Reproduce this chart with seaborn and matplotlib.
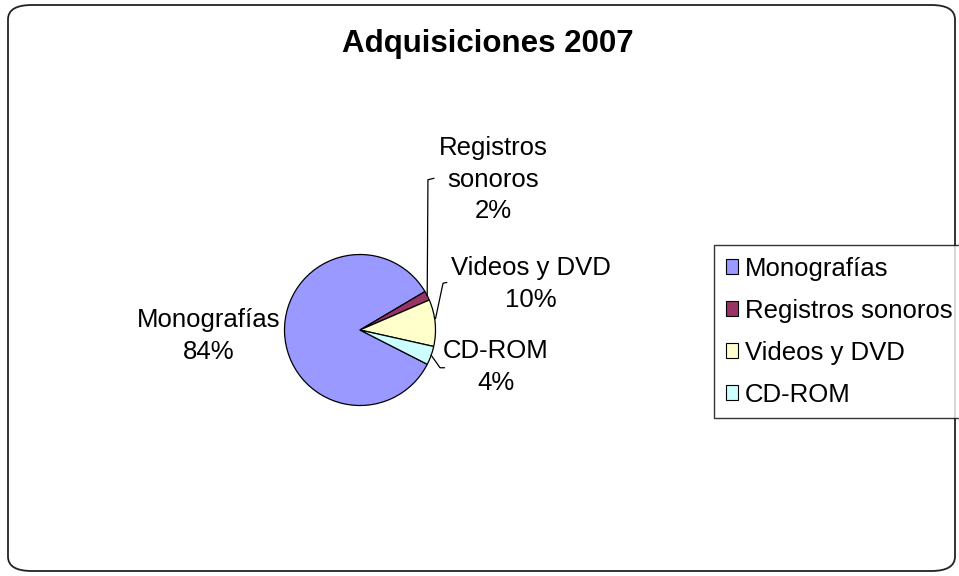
import matplotlib
matplotlib.use("Agg")
import matplotlib.pyplot as plt
import seaborn as sns
from matplotlib.patches import FancyBboxPatch, Patch

categories = ["Monografías", "Registros sonoros", "Videos y DVD", "CD-ROM"]
values = [84, 2, 10, 4]
label_texts = ["Monografías\n84%", "Registros\nsonoros\n2%", "Videos y DVD\n10%", "CD-ROM\n4%"]
colors = ["#9999FF", "#993366", "#FFFFCC", "#CCFFFF"]
title = "Adquisiciones 2007"

sns.set_theme(style="white")
plt.rcParams['font.family'] = ['Liberation Sans', 'DejaVu Sans']
plt.rcParams['text.color'] = 'black'

W, H = 959, 576
fig = plt.figure(figsize=(W / 100, H / 100), dpi=100)
fig.patch.set_facecolor("white")

# rounded border
border = FancyBboxPatch((8 / W, 5 / H), (947) / W, (566) / H,
                        boxstyle="round,pad=0,rounding_size=0.025",
                        transform=fig.transFigure, fill=False,
                        edgecolor="#222222", linewidth=1.3)
fig.patches.append(border)

cx, cy, r = 360, 330, 75.5
ax = fig.add_axes([(cx - r) / W, (H - cy - r) / H, 2 * r / W, 2 * r / H])
wedges, _ = ax.pie(values, colors=colors, startangle=-27, counterclock=False,
                   wedgeprops=dict(edgecolor="black", linewidth=0.9))
ax.set_xlim(-1, 1)
ax.set_ylim(-1, 1)
ax.set_aspect("equal")
ax.axis("off")

# labels and leader lines (in pie units)
label_pos = [(-2.0, -0.08), (1.76, 1.99), (2.26, 0.61), (1.80, -0.49)]
leaders = [None,
           [(0.89, 0.45), (0.90, 1.99), (0.98, 2.01)],
           [(1.0, 0.15), (1.10, 0.62), (1.15, 0.63)],
           [(0.94, -0.33), (1.06, -0.50), (1.12, -0.50)]]
for txt, pos, ld in zip(label_texts, label_pos, leaders):
    ax.text(pos[0], pos[1], txt, ha="center", va="center", fontsize=18.5,
            linespacing=1.4, color="black", clip_on=False)
    if ld:
        xs, ys = zip(*ld)
        ax.plot(xs, ys, color="black", linewidth=0.9, clip_on=False)

fig.text(488 / W, 1 - 44 / H, title, ha="center", va="center",
         fontsize=22.5, fontweight="bold", color="black")

handles = [Patch(facecolor=c, edgecolor="black", linewidth=0.8) for c in colors]
leg = fig.legend(handles, categories, loc="upper left",
                 bbox_to_anchor=(714 / W, 1 - 245 / H), fontsize=18.5,
                 frameon=True, fancybox=False, handlelength=0.5, handleheight=0.5,
                 handletextpad=0.25, borderpad=0.45, labelspacing=0.7,
                 borderaxespad=0)
for t in leg.get_texts():
    t.set_color("black")
leg.get_frame().set_edgecolor("black")
leg.get_frame().set_linewidth(1.0)

fig.savefig("out.png", dpi=100)
